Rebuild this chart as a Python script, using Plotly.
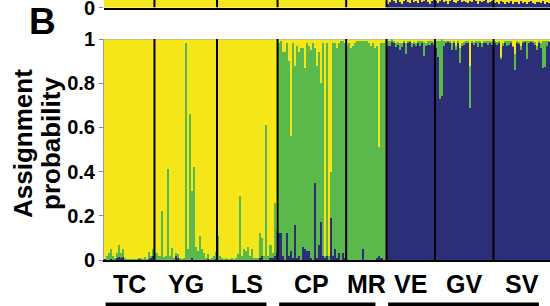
import plotly.graph_objects as go

# ---------------- data ----------------
POPS = ["TC", "YG", "LS", "CP", "MR", "VE", "GV", "SV"]

TC_blue = [0.005, 0, 0, 0.005, 0, 0, 0.01, 0.015, 0.01, 0.015, 0, 0, 0, 0, 0, 0, 0, 0.005, 0, 0, 0, 0, 0.005, 0.01, 0.02]
TC_green = [0.0, 0.02, 0.03, 0.045, 0.02, 0.01, 0.02, 0.055, 0.02, 0.035, 0.01, 0.005, 0.003, 0.003, 0.003, 0.003, 0.003, 0.003, 0.01, 0.005, 0.015, 0.005, 0.03, 0.01, 0.03]

YG_blue = [0, 0, 0, 0, 0, 0, 0, 0, 0, 0, 0.02, 0.01, 0, 0, 0, 0, 0, 0, 0.01, 0, 0, 0, 0, 0, 0, 0, 0.005, 0, 0, 0, 0.005]
YG_green = [0.03, 0.03, 0.02, 0.22, 0.015, 0.02, 0.41, 0.02, 0.055, 0.01, 0.01, 0.015, 0.01, 0.005, 0.01, 0.98, 0.05, 0.66, 0.30, 0.42, 0.06, 0.04, 0.11, 0.05, 0.03, 0.01, 0.02, 0.005, 0.01, 0.02, 0.03]

LS_blue = [0, 0, 0, 0, 0, 0, 0, 0, 0, 0, 0, 0, 0, 0, 0, 0, 0, 0, 0, 0, 0, 0.01, 0.02, 0, 0, 0, 0.01, 0.01, 0.02, 0.03]
LS_green = [0.11, 0.02, 0.01, 0.005, 0.01, 0.005, 0.005, 0.01, 0.005, 0.01, 0.027, 0.29, 0.02, 0.05, 0.04, 0.06, 0.02, 0.05, 0.01, 0.01, 0.01, 0.11, 0.08, 0.02, 0.61, 0.02, 0.06, 0.02, 0.24, 0.10]

CP_blue = [0.12, 0.12, 0.02, 0, 0.12, 0.02, 0.04, 0.01, 0.16, 0.01, 0.02, 0, 0.06, 0.05, 0.04, 0.04, 0.01, 0, 0.35, 0.01, 0.07, 0.17, 0.02, 0.01, 0.02, 0, 0.19, 0.02, 0.05, 0.01, 0.03, 0, 0.03, 0.01]
CP_green = [0.86, 0.87, 0.92, 0.94, 0.86, 0.88, 0.52, 0.97, 0.72, 0.96, 0.92, 0.96, 0.90, 0.82, 0.94, 0.93, 0.94, 0.98, 0.61, 0.87, 0.87, 0.63, 0.96, 0.01, 0.96, 0.02, 0.21, 0.96, 0.93, 0.95, 0.95, 0.99, 0.96, 0.97]

MR_blue = [0, 0, 0, 0, 0, 0, 0, 0, 0.05, 0, 0, 0, 0, 0, 0, 0.01, 0.02, 0.01, 0, 0]
MR_green = [0.97, 0.98, 0.96, 0.97, 0.98, 0.99, 0.99, 0.99, 0.94, 0.99, 0.99, 0.98, 0.97, 0.98, 0.96, 0.96, 0.49, 0.97, 0.98, 0.99]

VE_blue = [0.97, 0.97, 0.985, 0.98, 0.965, 0.975, 0.95, 0.965, 0.98, 0.93, 0.98, 0.985, 0.965, 0.98, 0.97, 0.98, 0.97, 0.985, 0.925, 0.97, 0.975, 0.975, 0.985, 0.975]
VE_green = [0.02, 0.02, 0.015, 0.01, 0.015, 0.01, 0.03, 0.015, 0.01, 0.05, 0.01, 0.01, 0.015, 0.005, 0.01, 0.015, 0.02, 0.005, 0.06, 0.01, 0.015, 0.02, 0.005, 0.01]

GV_blue = [0.96, 0.92, 0.73, 0.74, 0.97, 0.98, 0.985, 0.98, 0.95, 0.98, 0.95, 0.98, 0.89, 0.97, 0.975, 0.985, 0.98, 0.69, 0.98, 0.975, 0.98, 0.965, 0.98, 0.965, 0.98, 0.985, 0.975, 0.98, 0.975]
GV_green = [0.03, 0.07, 0.26, 0.26, 0.02, 0.01, 0.01, 0.01, 0.03, 0.01, 0.02, 0.01, 0.07, 0.01, 0.01, 0.005, 0.01, 0.19, 0.01, 0.01, 0.01, 0.03, 0.01, 0.015, 0.01, 0.005, 0.02, 0.01, 0.01]

SV_blue = [0.98, 0.975, 0.985, 0.91, 0.97, 0.985, 0.97, 0.975, 0.98, 0.965, 0.86, 0.98, 0.98, 0.95, 0.98, 0.99, 0.91, 0.98, 0.985, 0.985, 0.975, 0.95, 0.98, 0.96, 0.87, 0.875, 0.97, 0.985]
SV_green = [0.01, 0.01, 0.005, 0.01, 0.01, 0.005, 0.02, 0.02, 0.01, 0.005, 0.07, 0.01, 0.005, 0.02, 0.01, 0.005, 0.08, 0.01, 0.01, 0.005, 0.01, 0.02, 0.01, 0.02, 0.12, 0.12, 0.02, 0.01]

# bottom strip of panel A (blue share; TC..MR are fully yellow)
A_TC = [0.0] * 25
A_YG = [0.0] * 31
A_LS = [0.0] * 30
A_CP = [0.0] * 34
A_MR = [0.0] * 20
A_VE = [0.5, 0.7, 1, 0.9, 0.6, 1, 0.8, 0.5, 0.9, 1, 0.7, 0.6, 1, 0.8, 0.9, 0.6, 1, 0.7, 0.9, 1, 0.8, 0.5, 0.9, 1]
A_GV = [0.9, 0.6, 0.9, 1, 0.8, 0.9, 0.5, 0.9, 1, 0.8, 0.6, 0.9, 1, 0.8, 0.9, 0.7, 0.6, 0.9, 0.8, 1, 0.9, 0.5, 0.9, 0.8, 0.9, 1, 0.6, 0.8, 0.9]
A_SV = [0.6, 0.8, 0.5, 0.9, 0.7, 0.5, 0.8, 0.6, 0.9, 0.5, 0.7, 0.8, 0.5, 0.9, 0.6, 0.7, 0.5, 0.8, 0.9, 0.6, 0.5, 0.7, 0.8, 0.6, 0.9, 0.5, 0.7, 0.6]

GROUPS = [["TC", "YG", "LS"], ["CP", "MR"], ["VE", "GV", "SV"]]

# ---------------- assemble ----------------
blues = [TC_blue, YG_blue, LS_blue, CP_blue, MR_blue, VE_blue, GV_blue, SV_blue]
greens = [TC_green, YG_green, LS_green, CP_green, MR_green, VE_green, GV_green, SV_green]
panelA = [A_TC, A_YG, A_LS, A_CP, A_MR, A_VE, A_GV, A_SV]

blue = sum(blues, [])
green = sum(greens, [])
yellow = [max(0.0, 1 - b - g) for b, g in zip(blue, green)]
a_blue = sum(panelA, [])
a_yellow = [1 - v for v in a_blue]
counts = [len(b) for b in blues]
n = len(blue)
xs = [i + 0.5 for i in range(n)]
bounds = [0]
for c in counts:
    bounds.append(bounds[-1] + c)
centers = [(bounds[i] + bounds[i + 1]) / 2 for i in range(len(counts))]

YEL = "#F4E619"
GRN = "#5BB84A"
NAV = "#2C2F78"
FONT = "Liberation Sans"

W, H = 550, 306
fig = go.Figure()
for vals, col in [(blue, NAV), (green, GRN), (yellow, YEL)]:
    fig.add_trace(go.Bar(x=xs, y=vals, width=1, marker=dict(color=col, line=dict(width=0)),
                         xaxis="x", yaxis="y", showlegend=False, hoverinfo="skip"))
for vals, col in [(a_blue, NAV), (a_yellow, YEL)]:
    fig.add_trace(go.Bar(x=xs, y=vals, width=1, marker=dict(color=col, line=dict(width=0)),
                         xaxis="x2", yaxis="y2", showlegend=False, hoverinfo="skip"))

x_dom = [104 / W, 1.0]
tickfont = dict(family=FONT, size=20, color="black", weight="bold")

fig.update_layout(
    width=W, height=H, margin=dict(l=0, r=0, t=0, b=0, autoexpand=False),
    paper_bgcolor="white", plot_bgcolor="white",
    barmode="stack", bargap=0,
    xaxis=dict(domain=x_dom, range=[0, n], showticklabels=False, ticks="", showgrid=False,
               zeroline=False, showline=True, linecolor="black", linewidth=2, anchor="y",
               automargin=False),
    yaxis=dict(domain=[(H - 260) / H, (H - 39) / H], range=[0, 1], showgrid=False, zeroline=False,
               tickvals=[0, 0.2, 0.4, 0.6, 0.8, 1], ticktext=["0", "0.2", "0.4", "0.6", "0.8", "1"],
               ticks="outside", ticklen=4, tickwidth=1, tickcolor="#8080b0",
               showline=True, linecolor="#9a9ac8", linewidth=1, tickfont=tickfont, anchor="x",
               automargin=False, ticklabeloverflow="allow"),
    xaxis2=dict(domain=x_dom, range=[0, n], showticklabels=False, ticks="", showgrid=False,
                zeroline=False, showline=True, linecolor="black", linewidth=2, anchor="y2",
                automargin=False),
    yaxis2=dict(domain=[(H - 7.5) / H, 1.0], range=[0, 1], showgrid=False, zeroline=False,
                tickvals=[0], ticktext=["0"], ticks="outside", ticklen=4, tickcolor="#8080b0",
                showline=False, tickfont=tickfont, anchor="x2", automargin=False,
                ticklabeloverflow="allow"),
)

shapes = []
# top frame line of panel B
shapes.append(dict(type="line", xref="paper", yref="y", x0=x_dom[0], x1=1, y0=1, y1=1,
                   line=dict(color="#a0a0d0", width=1)))
# population separators
for b in bounds[1:-1]:
    for yr in ("y", "y2"):
        shapes.append(dict(type="line", xref="x", yref=yr, x0=b, x1=b, y0=0, y1=1,
                           line=dict(color="black", width=2)))
# group underlines
for g in GROUPS:
    i0 = POPS.index(g[0])
    i1 = POPS.index(g[-1])
    shapes.append(dict(type="rect", xref="x", yref="paper",
                       x0=bounds[i0] + 0.8, x1=min(bounds[i1 + 1] - 5.5, n),
                       y0=0, y1=3.5 / H, fillcolor="black", line=dict(width=0)))
fig.update_layout(shapes=shapes)

ann = []
for p, c in zip(POPS, centers):
    ann.append(dict(x=c, xref="x", y=(H - 284) / H, yref="paper", text=p, showarrow=False,
                    xanchor="center", yanchor="middle",
                    font=dict(family=FONT, size=25, color="black", weight="bold")))
ann.append(dict(x=42.5 / W, y=(H - 22) / H, xref="paper", yref="paper", text="B", showarrow=False,
                xanchor="center", yanchor="middle",
                font=dict(family=FONT, size=37, color="black", weight="bold")))
ann.append(dict(x=22.5 / W, y=(H - 143.5) / H, xref="paper", yref="paper", text="Assignment",
                showarrow=False, textangle=-90, xanchor="center", yanchor="middle",
                font=dict(family=FONT, size=26, color="black", weight="bold")))
ann.append(dict(x=50.5 / W, y=(H - 143.5) / H, xref="paper", yref="paper", text="probability",
                showarrow=False, textangle=-90, xanchor="center", yanchor="middle",
                font=dict(family=FONT, size=26, color="black", weight="bold")))
fig.update_layout(annotations=ann)

fig.write_html("out.html", config={"displayModeBar": False},
               post_script="document.body.style.margin='0';document.body.style.padding='0';"
                           "document.documentElement.style.overflow='hidden';")
